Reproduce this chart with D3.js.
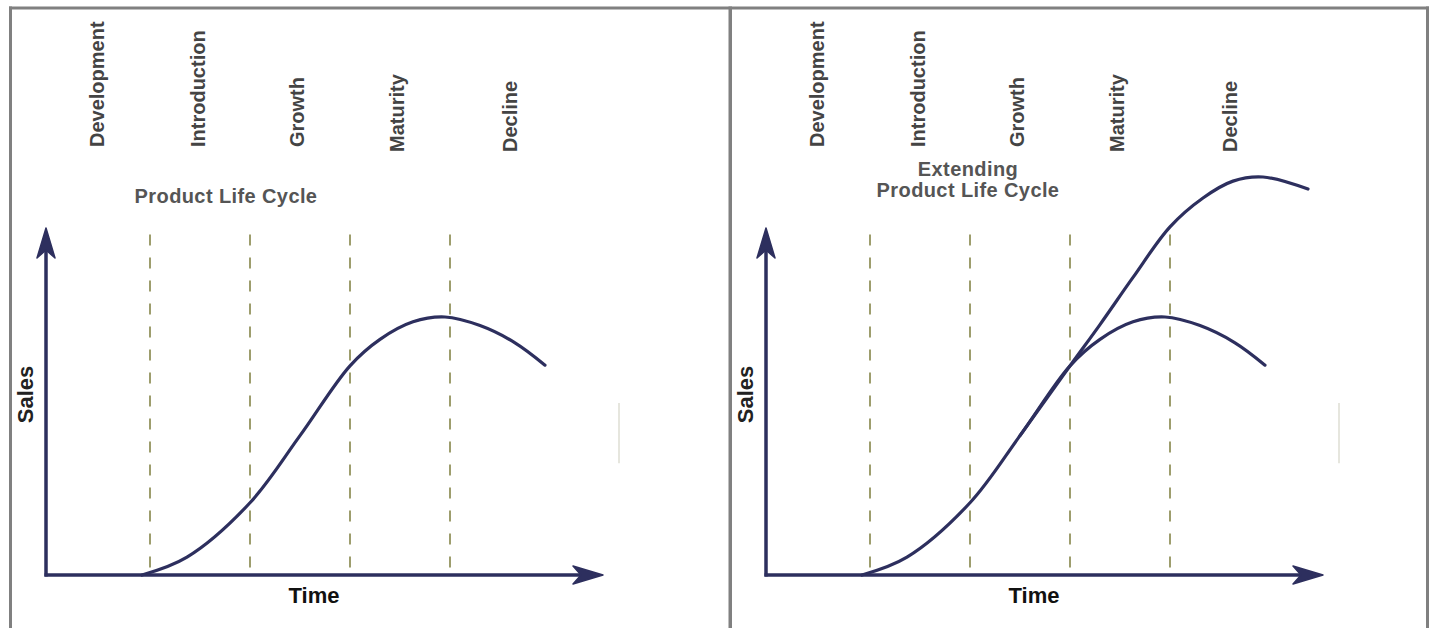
<!DOCTYPE html>
<html>
<head>
<meta charset="utf-8">
<script src="https://cdn.jsdelivr.net/npm/d3@7"></script>
<style>
  body { margin: 0; background: #fff; }
  svg { display: block; }
  text { font-family: "Liberation Sans", Arial, sans-serif; font-weight: bold; }
</style>
</head>
<body>
<svg width="1432" height="628"></svg>
<script>
//data (time in stage units, sales in % of axis height)
var stages = ["Development", "Introduction", "Growth", "Maturity", "Decline"];
var stageLabelAt = [0.54, 1.55, 2.54, 3.54, 4.67];
var stageBounds = [1, 2, 3, 4];

var baseTime  = [0.92, 1.37, 2.0, 2.5, 3.0, 3.3, 3.63, 3.95, 4.3, 4.65, 4.95];
var baseSales = [0, 5.2, 21, 40.5, 60.8, 68.5, 73.6, 75, 72.5, 67.5, 61];

var extTime  = [2.5, 3.0, 3.3, 3.63, 4.0, 4.33, 4.63, 4.93, 5.38];
var extSales = [40.5, 60.8, 72.8, 86.5, 101.2, 109.6, 114.5, 115.7, 112.2];

var panels = [
  {title: ["Product Life Cycle"], extended: false},
  {title: ["Extending", "Product Life Cycle"], extended: true}
];

const navy = "#2d2f5e";
const dashCol = "#9d9d6d";
const panelShift = 720;

const svg = d3.select("svg");

var xScale = d3.scaleLinear().domain([-0.04, 5.53]).range([46, 603]);
var yScale = d3.scaleLinear().domain([0, 100]).range([575, 231]);

var line = d3.line()
  .x(d => xScale(d[0]))
  .y(d => yScale(d[1]))
  .curve(d3.curveCatmullRom.alpha(0.5));

var basePts = baseTime.map((t, i) => [t, baseSales[i]]);
var extPts = extTime.map((t, i) => [t, extSales[i]]);

//frame
var frame = svg.append("g").attr("fill", "#808080");
frame.append("rect").attr("x", 9).attr("y", 6.5).attr("width", 1420).attr("height", 3);
frame.append("rect").attr("x", 9).attr("y", 6.5).attr("width", 3).attr("height", 622);
frame.append("rect").attr("x", 728.5).attr("y", 6.5).attr("width", 3.5).attr("height", 622);
frame.append("rect").attr("x", 1426).attr("y", 6.5).attr("width", 3).attr("height", 622);

panels.forEach(function(p, k) {
  var g = svg.append("g").attr("transform", `translate(${k * panelShift}, 0)`);

  //stage labels
  g.selectAll(".stage")
    .data(stages)
    .enter()
    .append("text")
      .attr("class", "stage")
      .attr("transform", (d, i) => `translate(${xScale(stageLabelAt[i])}, ${i < 3 ? 147 : 152}) rotate(-90)`)
      .attr("fill", "#444")
      .attr("font-size", 20)
      .text(d => d);

  //title
  var tx = k == 0 ? xScale(1.76) : xScale(1.98);
  var ty = k == 0 ? 203 : 176;
  g.selectAll(".title")
    .data(p.title)
    .enter()
    .append("text")
      .attr("class", "title")
      .attr("x", tx)
      .attr("y", (d, i) => ty + i * 21)
      .attr("text-anchor", "middle")
      .attr("fill", "#555")
      .attr("font-size", 20)
      .attr("letter-spacing", 0.4)
      .text(d => d);

  //stage boundaries
  g.selectAll(".bound")
    .data(stageBounds)
    .enter()
    .append("line")
      .attr("x1", d => xScale(d)).attr("x2", d => xScale(d))
      .attr("y1", yScale(99)).attr("y2", yScale(0))
      .attr("stroke", dashCol)
      .attr("stroke-width", 2)
      .attr("stroke-dasharray", "11,12");

  //faint scan artefact at right edge of each panel
  g.append("line")
    .attr("x1", xScale(5.69)).attr("x2", xScale(5.69))
    .attr("y1", yScale(50)).attr("y2", yScale(32.5))
    .attr("stroke", "#e6e6de").attr("stroke-width", 2);

  //curves
  g.append("path")
    .attr("d", line(basePts))
    .attr("fill", "none")
    .attr("stroke", navy)
    .attr("stroke-width", 3.2)
    .attr("stroke-linecap", "round");

  if (p.extended) {
    g.append("path")
      .attr("d", line(extPts))
      .attr("fill", "none")
      .attr("stroke", navy)
      .attr("stroke-width", 3.2)
      .attr("stroke-linecap", "round");
  }

  //axes with arrow heads
  var x0 = xScale(-0.04), y0 = yScale(0);
  var yTip = yScale(100) - 3, xTip = xScale(5.53);
  g.append("line")
    .attr("x1", x0).attr("x2", x0)
    .attr("y1", y0 + 1.5).attr("y2", yTip + 10)
    .attr("stroke", navy).attr("stroke-width", 3.5);
  g.append("line")
    .attr("x1", x0 - 1.5).attr("x2", xTip - 10)
    .attr("y1", y0).attr("y2", y0)
    .attr("stroke", navy).attr("stroke-width", 3.5);
  g.append("path")
    .attr("d", `M${x0},${yTip} L${x0 - 9},${yTip + 30} L${x0},${yTip + 22} L${x0 + 9},${yTip + 30} Z`)
    .attr("fill", navy).attr("stroke", navy).attr("stroke-width", 1.5).attr("stroke-linejoin", "round");
  g.append("path")
    .attr("d", `M${xTip},${y0} L${xTip - 30},${y0 - 9} L${xTip - 22},${y0} L${xTip - 30},${y0 + 9} Z`)
    .attr("fill", navy).attr("stroke", navy).attr("stroke-width", 1.5).attr("stroke-linejoin", "round");

  //axis titles
  g.append("text")
    .attr("transform", `translate(${x0 - 13}, ${yScale(52.5)}) rotate(-90)`)
    .attr("text-anchor", "middle")
    .attr("fill", "#222")
    .attr("font-size", 22)
    .text("Sales");
  g.append("text")
    .attr("x", xScale(2.64))
    .attr("y", y0 + 28)
    .attr("text-anchor", "middle")
    .attr("fill", "#111")
    .attr("font-size", 22)
    .text("Time");
});
</script>
</body>
</html>
